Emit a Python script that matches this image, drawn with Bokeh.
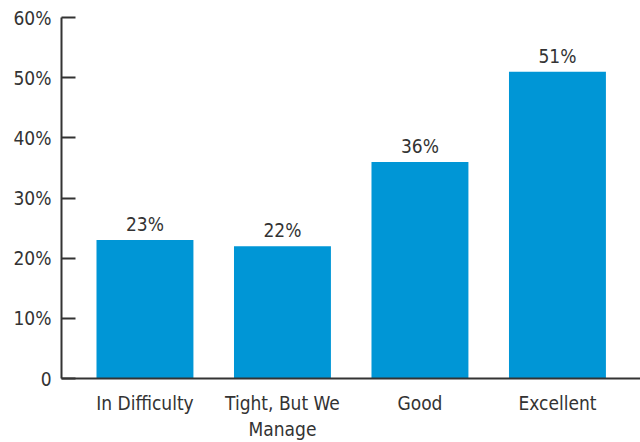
from bokeh.plotting import figure
from bokeh.models import ColumnDataSource, FixedTicker, Range1d
from bokeh.core.properties import value
from bokeh.embed import file_html
from bokeh.resources import INLINE

categories = ["In Difficulty", "Tight, But We\nManage", "Good", "Excellent"]
values = [23, 22, 36, 51]
y_ticks = [0, 10, 20, 30, 40, 50, 60]
y_tick_labels = ["0", "10%", "20%", "30%", "40%", "50%", "60%"]

FONT = "'DejaVu Sans Condensed', 'Roboto Condensed', 'Liberation Sans Narrow', Roboto, sans-serif"
TEXT = "#333333"
BAR = "#0096D6"

xs = list(range(len(categories)))
src = ColumnDataSource(dict(x=xs, top=values, label=[f"{v}%" for v in values]))

p = figure(width=640, height=442, output_backend="svg", toolbar_location=None,
           x_range=Range1d(-0.607, 3.604), y_range=Range1d(0, 60),
           min_border_left=61, min_border_top=17, min_border_bottom=63, min_border_right=0)
p.outline_line_color = None
p.xgrid.visible = False
p.ygrid.visible = False

p.vbar(x="x", top="top", width=0.705, bottom=0, source=src, color=BAR, line_color=None)
p.text(x="x", y="top", text="label", source=src, text_align="center", text_baseline="bottom",
       y_offset=-5, text_font=value(FONT), text_font_size="19px", text_color=TEXT)

p.yaxis.ticker = FixedTicker(ticks=y_ticks)
p.yaxis.major_label_overrides = {t: l for t, l in zip(y_ticks, y_tick_labels)}
p.yaxis.major_tick_in = 14
p.yaxis.major_tick_out = 0
p.yaxis.minor_tick_line_color = None
p.yaxis.major_label_standoff = 10
p.yaxis.axis_line_width = 2
p.yaxis.major_tick_line_width = 2
p.yaxis.axis_line_color = TEXT
p.yaxis.major_tick_line_color = TEXT

p.xaxis.ticker = FixedTicker(ticks=xs)
p.xaxis.major_label_overrides = {i: c for i, c in zip(xs, categories)}
p.xaxis.major_tick_line_color = None
p.xaxis.major_tick_out = 0
p.xaxis.major_tick_in = 0
p.xaxis.minor_tick_line_color = None
p.xaxis.major_label_standoff = 13
p.xaxis.axis_line_width = 2
p.xaxis.axis_line_color = TEXT

for ax in (p.xaxis, p.yaxis):
    ax.major_label_text_font = FONT
    ax.major_label_text_font_size = "19px"
    ax.major_label_text_color = TEXT

open("out.html", "w").write(file_html(p, INLINE))
